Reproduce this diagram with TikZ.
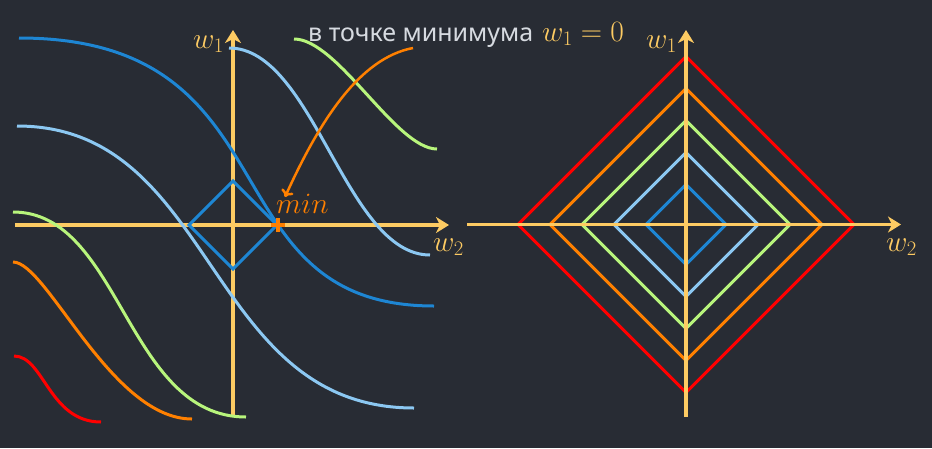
\RequirePackage{fix-cm}
\documentclass[tikz,border=0pt]{standalone}
\usepackage{fontspec}
\newfontfamily\rufont{Noto Sans}
\usetikzlibrary{arrows.meta}
\definecolor{bgc}{HTML}{282C34}
\definecolor{axc}{HTML}{FDCB63}
\definecolor{dbc}{HTML}{1E86D3}
\definecolor{lbc}{HTML}{8CC8F2}
\definecolor{grc}{HTML}{B8F57C}
\definecolor{orc}{HTML}{FF8000}
\definecolor{rdc}{HTML}{FF0000}
\definecolor{txc}{HTML}{D6DAE0}
\begin{document}
\begin{tikzpicture}[x=1pt,y=-1pt,
  axisline/.style={draw=axc,line width=3.5pt,-{Stealth[length=13pt,width=16pt,inset=4pt]}},
  curveline/.style={line width=3pt},
  dia/.style={line width=3pt,line join=miter},
  lbl/.style={inner sep=0pt,text=axc,font=\fontsize{29.5}{34}\selectfont}]
\fill[bgc] (0,0) rectangle (932,448);
\useasboundingbox (0,0) rectangle (932,448);

% ---------- left plot ----------
\coordinate (LO) at (233,225);
\coordinate (LxS) at (15,225);
\coordinate (LxE) at (449,225);
\coordinate (LyS) at (233,415);
\coordinate (LyE) at (233,30);
\draw[axisline] (LxS) -- (LxE);
\draw[axisline] (LyS) -- (LyE);

\draw[dia,dbc] (189,225) -- (233,181) -- (277,225) -- (233,269) -- cycle;

\draw[curveline,dbc] (19,38) .. controls (299,38) and (204,306) .. (434,306);
\draw[curveline,lbc] (17,126) .. controls (217,126) and (204.5,408) .. (414,408);
\draw[curveline,lbc] (229,48) .. controls (313.6,48) and (345.4,255) .. (430,255);
\draw[curveline,grc] (294,39) .. controls (337.7,39) and (396,149) .. (437,149);
\draw[curveline,grc] (13,212) .. controls (120.7,212) and (126.3,417) .. (246,417);
\draw[curveline,orc] (13,262) .. controls (47,262) and (111,419) .. (192,419);
\draw[curveline,rdc] (14,356) .. controls (44,356) and (49,422) .. (101,422);

\coordinate (minpt) at (278,225);
\draw[orc,line width=4pt] ([xshift=-7pt]minpt) -- ([xshift=7pt]minpt);
\draw[orc,line width=4pt] ([yshift=-7pt]minpt) -- ([yshift=7pt]minpt);
\node[lbl,text=orc,anchor=base west] (minlbl) at (276,213) {$min$};

\node[lbl,anchor=base west] (Lw1) at (193,48) {$w_1$};
\node[lbl,anchor=base west] (Lw2) at (433,251) {$w_2$};

% annotation
\node[lbl,anchor=base west] (title) at (308,41.5) {{\rufont\fontsize{25}{30}\selectfont\color{txc}в точке минимума}\hspace{9pt}\color{axc}$w_1=0$};
\coordinate (arrS) at (413,48);
\coordinate (arrE) at (285,197);
\draw[orc,line width=2.5pt,-{To[length=7pt,width=13pt]}] (arrS) .. controls (360,58) and (320,120) .. (arrE);

% ---------- right plot ----------
\coordinate (RO) at (686,224.5);
\foreach \s/\c in {168/rdc,136/orc,104/grc,72/lbc,40/dbc}{
  \draw[dia,\c] ([xshift=-\s pt]RO) -- ([yshift=-\s pt]RO) -- ([xshift=\s pt]RO) -- ([yshift=\s pt]RO) -- cycle;
}
\coordinate (RxS) at (467,224.5);
\coordinate (RxE) at (901,224.5);
\coordinate (RyS) at (686,417);
\coordinate (RyE) at (686,30);
\draw[axisline] (RxS) -- (RxE);
\draw[axisline] (RyS) -- (RyE);
\node[lbl,anchor=base west] (Rw1) at (646,48) {$w_1$};
\node[lbl,anchor=base west] (Rw2) at (886,251) {$w_2$};
\end{tikzpicture}
\end{document}
